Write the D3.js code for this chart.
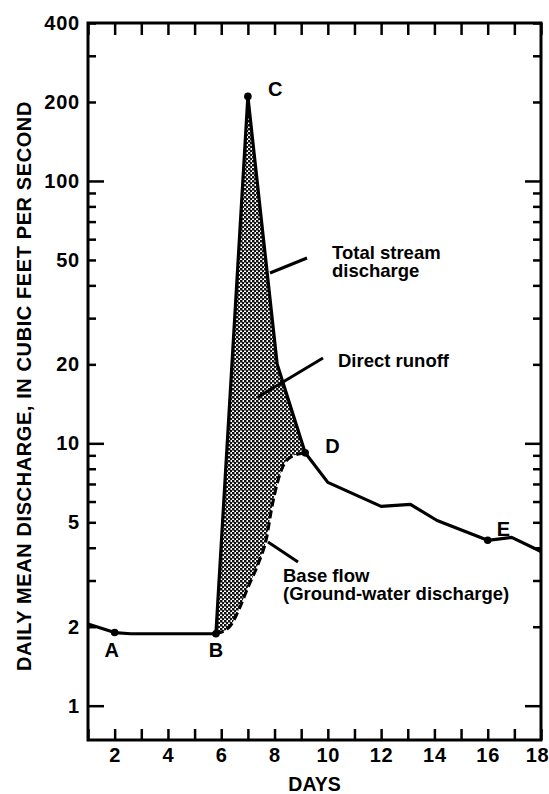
<!DOCTYPE html>
<html>
<head>
<meta charset="utf-8">
<script src="https://cdn.jsdelivr.net/npm/d3@7"></script>
<style>
  body { margin: 0; background: #fff; }
  svg text { font-family: "Liberation Sans", Arial, sans-serif; font-weight: bold; fill: #000; }
</style>
</head>
<body>
<div id="chart"></div>
<script>
// Total stream discharge (daily mean, cfs)
const totalDays = [1, 2, 2.6, 5.8, 7.0, 8.1, 9.15, 10, 12, 13.1, 14.1, 16.0, 16.9, 18];
const totalFlow = [2.05, 1.90, 1.88, 1.88, 210, 20, 9.2, 7.1, 5.75, 5.85, 5.08, 4.27, 4.38, 3.87];

// Base flow (ground-water discharge) between B and D
const baseDays = [5.8, 6.3, 6.7, 7.0, 7.4, 7.7, 7.9, 8.3, 8.6, 9.15];
const baseFlow = [1.88, 1.99, 2.37, 2.82, 3.5, 4.35, 5.7, 8.1, 8.85, 9.2];

// Labelled points on the hydrograph
const pointNames = ["A", "B", "C", "D", "E"];
const pointDays = [2, 5.8, 7.0, 9.15, 16.0];
const pointFlow = [1.90, 1.88, 210, 9.2, 4.27];

// Axis ticks
const xTickDays = d3.range(1, 19);
const xLabelDays = [2, 4, 6, 8, 10, 12, 14, 16, 18];
const yMinorTicks = [2, 3, 4, 5, 6, 7, 8, 9, 20, 30, 40, 50, 60, 70, 80, 90, 200, 300, 400];
const yDecadeTicks = [1, 10, 100];
const yLabels = [1, 2, 5, 10, 20, 50, 100, 200, 400];

const width = 549, height = 794;
const margin = { top: 23, right: 8, bottom: 54, left: 88 };

const svg = d3.select("#chart").append("svg")
    .attr("width", width)
    .attr("height", height);

const x = d3.scaleLinear().domain([1, 18]).range([margin.left, width - margin.right]);
const y = d3.scaleLog().domain([0.74, 400]).range([height - margin.bottom, margin.top]);

// stipple pattern for direct runoff
const defs = svg.append("defs");
const pat = defs.append("pattern")
    .attr("id", "stipple")
    .attr("patternUnits", "userSpaceOnUse")
    .attr("width", 4).attr("height", 4);
pat.append("rect").attr("width", 4).attr("height", 4).attr("fill", "#fff");
pat.append("rect").attr("x", 0).attr("y", 0).attr("width", 2.5).attr("height", 2.5).attr("fill", "#111");
pat.append("rect").attr("x", 2).attr("y", 2).attr("width", 2.5).attr("height", 2.5).attr("fill", "#111");

const total = totalDays.map((d, i) => [d, totalFlow[i]]);
const base = baseDays.map((d, i) => [d, baseFlow[i]]);

const lineLin = d3.line().x(d => x(d[0])).y(d => y(d[1]));
const lineSmooth = d3.line().x(d => x(d[0])).y(d => y(d[1])).curve(d3.curveMonotoneX);

// shaded area: base flow forward, then total discharge back from D to B
const risingPart = total.filter(d => d[0] >= 5.8 && d[0] <= 9.15);
const areaPath = lineSmooth(base) + lineLin(risingPart.slice().reverse()).replace(/^M/, "L") + "Z";

svg.append("path")
    .attr("d", areaPath)
    .attr("fill", "url(#stipple)")
    .attr("stroke", "none");

// axes frame
const plot = { x0: x(1), x1: x(18), y0: y(400), y1: y(0.74) };
const fmtY = d => yLabels.includes(d) ? d : "";

const gLeft = svg.append("g").attr("transform", `translate(${plot.x0},0)`);
gLeft.call(d3.axisLeft(y).tickValues(yMinorTicks).tickSizeInner(-8).tickSizeOuter(0).tickPadding(8)
    .tickFormat(fmtY));
gLeft.append("g").call(d3.axisLeft(y).tickValues(yDecadeTicks).tickSizeInner(-16).tickSizeOuter(0).tickPadding(8)
    .tickFormat(fmtY));

const gRight = svg.append("g").attr("transform", `translate(${plot.x1},0)`);
gRight.call(d3.axisRight(y).tickValues(yMinorTicks).tickSizeInner(-8).tickSizeOuter(0).tickFormat(""));
gRight.append("g").call(d3.axisRight(y).tickValues(yDecadeTicks).tickSizeInner(-16).tickSizeOuter(0).tickFormat(""));

const gBottom = svg.append("g").attr("transform", `translate(0,${plot.y1})`);
gBottom.call(d3.axisBottom(x).tickValues(xTickDays).tickSizeInner(-11).tickSizeOuter(0).tickPadding(8)
    .tickFormat(d => xLabelDays.includes(d) ? d : ""));

const gTop = svg.append("g").attr("transform", `translate(0,${plot.y0})`);
gTop.call(d3.axisTop(x).tickValues(xTickDays).tickSizeInner(-12).tickSizeOuter(0).tickFormat(""));

svg.selectAll(".domain").remove();
svg.selectAll(".tick line").attr("stroke", "#000").attr("stroke-width", 2.5);
svg.selectAll(".tick text").style("font-size", "20px").attr("fill", "#000")
    .style("letter-spacing", "0.8px")
    .style("font-family", "'Liberation Sans', Arial, sans-serif").style("font-weight", "bold");

// last day label sits against the page edge
gBottom.selectAll(".tick text").filter(d => d === 18)
    .attr("text-anchor", "end").attr("x", 8);

svg.append("rect")
    .attr("x", plot.x0).attr("y", plot.y0)
    .attr("width", plot.x1 - plot.x0).attr("height", plot.y1 - plot.y0)
    .attr("fill", "none").attr("stroke", "#000").attr("stroke-width", 3);

// base flow (dashed) and total discharge
svg.append("path")
    .attr("d", lineSmooth(base))
    .attr("fill", "none")
    .attr("stroke", "#000")
    .attr("stroke-width", 3)
    .attr("stroke-dasharray", "8,4");

svg.append("path")
    .attr("d", lineLin(total))
    .attr("fill", "none")
    .attr("stroke", "#000")
    .attr("stroke-width", 3.2)
    .attr("stroke-linejoin", "round");

// points
svg.selectAll("circle.pt")
    .data(pointNames)
    .enter().append("circle")
    .attr("class", "pt")
    .attr("cx", (d, i) => x(pointDays[i]))
    .attr("cy", (d, i) => y(pointFlow[i]))
    .attr("r", 3.8)
    .attr("fill", "#000");

// point letters, offsets relative to each point
const letterOffsets = { A: [-3, 24], B: [0, 23], C: [20, 0], D: [20, 0], E: [9, -4] };
svg.selectAll("text.pt")
    .data(pointNames)
    .enter().append("text")
    .attr("class", "pt")
    .attr("x", (d, i) => x(pointDays[i]) + letterOffsets[d][0])
    .attr("y", (d, i) => y(pointFlow[i]) + letterOffsets[d][1])
    .attr("text-anchor", d => (d === "A" || d === "B") ? "middle" : "start")
    .style("font-size", "20px")
    .text(d => d);

// annotations with leader lines
const notes = [
    { lines: ["Total stream", "discharge"], tx: 332, ty: 259, leader: [[270, 273], [307, 258]] },
    { lines: ["Direct runoff"], tx: 338, ty: 367, leader: [[258, 397], [323, 358]] },
    { lines: ["Base flow", "(Ground-water discharge)"], tx: 283, ty: 582, leader: [[268, 542], [298, 562]] }
];

notes.forEach(n => {
    svg.append("line")
        .attr("x1", n.leader[0][0]).attr("y1", n.leader[0][1])
        .attr("x2", n.leader[1][0]).attr("y2", n.leader[1][1])
        .attr("stroke", "#000").attr("stroke-width", 3);
    const t = svg.append("text").attr("x", n.tx).attr("y", n.ty).style("font-size", "18.5px");
    n.lines.forEach((s, i) => {
        t.append("tspan").attr("x", n.tx).attr("dy", i === 0 ? 0 : 18).text(s);
    });
});

// axis titles
svg.append("text")
    .attr("x", (plot.x0 + plot.x1) / 2)
    .attr("y", 791)
    .attr("text-anchor", "middle")
    .style("font-size", "19.5px")
    .text("DAYS");

svg.append("text")
    .attr("transform", "translate(31,386) rotate(-90)")
    .attr("text-anchor", "middle")
    .style("font-size", "20px")
    .style("letter-spacing", "0.6px")
    .text("DAILY MEAN DISCHARGE, IN CUBIC FEET PER SECOND");
</script>
</body>
</html>
